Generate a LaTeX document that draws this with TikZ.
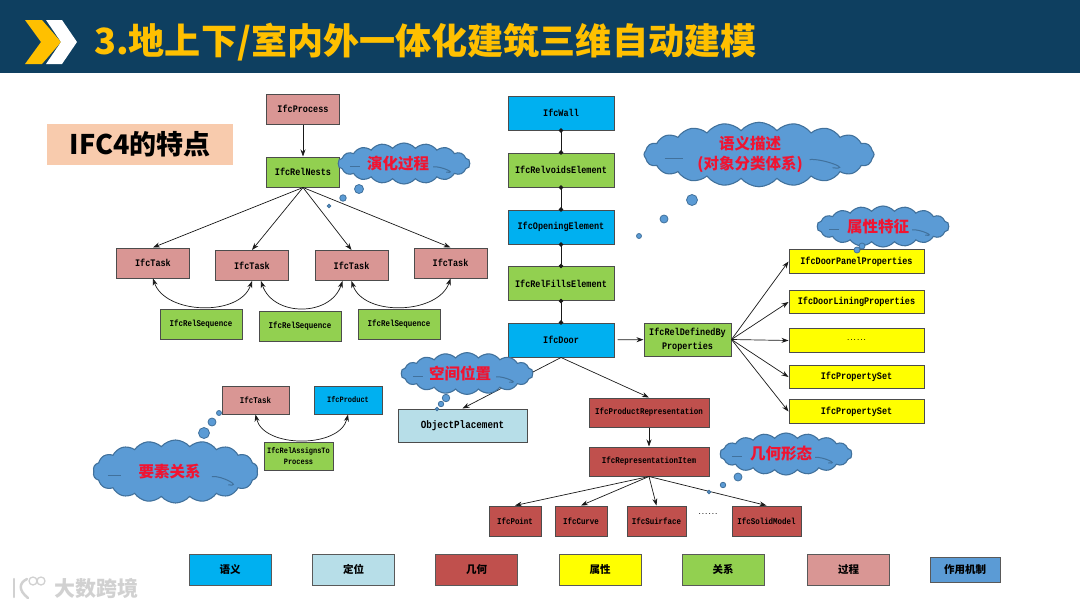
\documentclass[tikz,border=0pt]{standalone}
\usepackage{fontspec}
\usepackage{xcolor}
\usetikzlibrary{arrows.meta,shapes.symbols}
\newfontfamily\cjkfont{Noto Sans CJK SC}
\newfontfamily\ifcfont{Liberation Mono}[FakeStretch=0.85]
\definecolor{headC}{RGB}{14,63,96}
\definecolor{goldC}{RGB}{255,192,0}
\definecolor{featureC}{RGB}{248,203,173}
\definecolor{semanC}{RGB}{0,176,240}
\definecolor{placeC}{RGB}{183,222,232}
\definecolor{geomC}{RGB}{192,80,77}
\definecolor{attrC}{RGB}{255,255,0}
\definecolor{relC}{RGB}{146,208,80}
\definecolor{procC}{RGB}{217,150,148}
\definecolor{cloudC}{RGB}{91,155,213}
\definecolor{cloudL}{RGB}{65,113,156}
\definecolor{noteC}{RGB}{240,20,50}
\newcommand{\sixdots}{{\fontsize{6.5}{8}\selectfont ......}}
\tikzset{
  ifc/.style={draw=black!70,line width=1pt,align=center,inner sep=0pt,
    font=\ifcfont\bfseries\fontsize{10}{14}\selectfont},
  ifcsm/.style={ifc,font=\ifcfont\bfseries\fontsize{8.8}{11}\selectfont},
  arr/.style={-{Stealth[length=7pt,width=5pt]},black!90,line width=0.7pt},
  dotlink/.style={{Circle[length=4.5pt]}-{Circle[length=4.5pt]},black!90,line width=0.8pt,
    shorten <=-2.25pt,shorten >=-2.25pt},
  seqarc/.style={{Stealth[length=7pt,width=5pt]}-{Stealth[length=7pt,width=5pt]},black!90,line width=0.7pt},
  thought/.style={cloud,cloud puffs=18,cloud puff arc=100,draw=cloudL,line width=1.1pt,
    fill=cloudC,inner sep=0pt,align=center,text=noteC,
    font=\cjkfont\bfseries\fontsize{15.5}{20}\selectfont},
  bubble/.style={circle,fill=cloudC,draw=cloudL,line width=0.8pt,inner sep=0pt},
  legend/.style={draw=black!65,line width=0.9pt,minimum width=82pt,minimum height=31pt,
    inner sep=0pt,font=\cjkfont\bfseries\fontsize{10.5}{12}\selectfont}
}
\begin{document}
\begin{tikzpicture}[x=1pt,y=-1pt]
  \useasboundingbox (0,0) rectangle (1080,608);

  % Header
  \fill[headC] (0,0) rectangle (1080,73);
  \fill[goldC] (25,20) -- (42,20) -- (61,42) -- (42,64) -- (25,64) -- (41,42) -- cycle;
  \fill[white] (46,20) -- (62,20) -- (77,42) -- (62,64) -- (46,64) -- (61,42) -- cycle;
  \node[anchor=west,inner sep=0pt,text=goldC,font=\cjkfont\bfseries\fontsize{36.1}{40}\selectfont]
    (title) at (94,42) {3.地上下/室内外一体化建筑三维自动建模};
  \node[fill=featureC,minimum width=186pt,minimum height=41pt,inner sep=0pt,
    font=\cjkfont\bfseries\fontsize{27}{30}\selectfont] (feature) at (140,144.5) {IFC4的特点};

  % Process tree
  \node[ifc,fill=procC,minimum width=73pt,minimum height=30pt] (process) at (303,109) {IfcProcess};
  \node[ifc,fill=relC,minimum width=73pt,minimum height=30pt] (nests) at (303,172) {IfcRelNests};
  \foreach \n/\px/\py in {taskA/153/263,taskB/252/265.5,taskC/351.5/265.5,taskD/450.5/263}{
    \node[ifc,fill=procC,minimum width=73pt,minimum height=30pt] (\n) at (\px,\py) {IfcTask};
    \draw[arr] (nests.south) -- (\n.north);
  }
  \draw[arr] (process) -- (nests);
  \draw[seqarc] (taskA.south) .. controls +(12,36) and +(-12,36) .. (taskB.south);
  \draw[seqarc] ([xshift=9pt]taskB.south) .. controls +(12,36) and +(-12,36) .. ([xshift=-9pt]taskC.south);
  \draw[seqarc] (taskC.south) .. controls +(12,36) and +(-12,36) .. (taskD.south);
  \foreach \n/\px/\py in {seqA/201/324,seqB/300/326,seqC/399/324}{
    \node[ifcsm,fill=relC,minimum width=82pt,minimum height=30pt] (\n) at (\px,\py) {IfcRelSequence};
  }

  % Task and product
  \node[ifcsm,fill=procC,minimum width=67pt,minimum height=28pt] (task) at (255.5,400) {IfcTask};
  \node[ifcsm,fill=semanC,minimum width=68pt,minimum height=28pt,font=\ifcfont\bfseries\fontsize{8.2}{11}\selectfont]
    (product) at (348,400) {IfcProduct};
  \draw[seqarc] (task.south) .. controls +(8,34) and +(-8,34) .. (product.south);
  \node[ifcsm,fill=relC,minimum width=69pt,minimum height=28pt,font=\ifcfont\bfseries\fontsize{8.2}{11}\selectfont]
    (assigns) at (298.5,456) {IfcRelAssignsTo\\Process};

  % Door column
  \node[ifc,fill=semanC,minimum width=106pt,minimum height=34pt] (wall) at (561,113) {IfcWall};
  \node[ifc,fill=relC,minimum width=106pt,minimum height=34pt] (voids) at (561,170) {IfcRelvoidsElement};
  \node[ifc,fill=semanC,minimum width=106pt,minimum height=34pt] (opening) at (561,227) {IfcOpeningElement};
  \node[ifc,fill=relC,minimum width=106pt,minimum height=34pt] (fills) at (561,283.5) {IfcRelFillsElement};
  \node[ifc,fill=semanC,minimum width=106pt,minimum height=34pt] (door) at (561,340) {IfcDoor};
  \foreach \upper/\lower in {wall/voids,voids/opening,opening/fills,fills/door}{
    \draw[dotlink] (\upper) -- (\lower);
  }

  % Placement
  \node[ifc,fill=placeC,minimum width=129pt,minimum height=33pt,font=\ifcfont\bfseries\fontsize{10.9}{12}\selectfont]
    (placement) at (462.5,425.5) {ObjectPlacement};
  \draw[arr] (door.south) -- (placement.north);

  % Properties
  \node[ifc,fill=relC,minimum width=87pt,minimum height=33pt] (defined) at (687.5,339.5) {IfcRelDefinedBy\\Properties};
  \draw[arr,shorten <=3pt] (door) -- (defined);
  \foreach \n/\py/\lab in {propA/261.5/IfcDoorPanelProperties,propB/302/IfcDoorLiningProperties,
      propC/340.5/\sixdots,propD/377/IfcPropertySet,propE/411.5/IfcPropertySet}{
    \node[ifc,fill=attrC,minimum width=135pt,minimum height=23.5pt] (\n) at (856.5,\py) {\lab};
    \draw[arr] (defined.east) -- (\n.west);
  }

  % Geometry
  \node[ifcsm,fill=geomC,minimum width=120pt,minimum height=29pt] (prodrep) at (649,412.5) {IfcProductRepresentation};
  \node[ifcsm,fill=geomC,minimum width=120pt,minimum height=29pt] (repitem) at (649,461.5) {IfcRepresentationItem};
  \draw[arr] (door.south) -- (prodrep.north);
  \draw[arr] (prodrep) -- (repitem);
  \foreach \n/\px/\boxw/\lab in {point/515/52/IfcPoint,curve/581/52/IfcCurve,
      surface/656.5/59/IfcSuirface,solid/766.5/69/IfcSolidModel}{
    \node[ifcsm,fill=geomC,minimum width=\boxw pt,minimum height=30pt] (\n) at (\px,521) {\lab};
    \draw[arr] (repitem.south) -- (\n.north);
  }
  \node[ifcsm,draw=none] (dots) at (708,514) {\sixdots};

  % Clouds (text sits left of centre)
  \node[thought,minimum width=132pt,minimum height=41pt,aspect=3.2] (cloudEvol) at (404,163.5) {演化过程\hspace*{12pt}};
  \node[thought,cloud puffs=20,minimum width=230pt,minimum height=63pt,aspect=3.6] (cloudSem) at (759,154.5) {语义描述\hspace*{18pt}\\(对象分类体系)\hspace*{18pt}};
  \node[thought,minimum width=132pt,minimum height=41pt,aspect=3.2] (cloudAttr) at (883,226.5) {属性特征\hspace*{10pt}};
  \node[thought,minimum width=132pt,minimum height=41pt,aspect=3.2] (cloudPos) at (467,373.5) {空间位置\hspace*{14pt}};
  \node[thought,minimum width=165pt,minimum height=63pt,aspect=2.6] (cloudElem) at (175.5,471.5) {要素关系\hspace*{12pt}};
  \node[thought,minimum width=132pt,minimum height=42pt,aspect=3.2] (cloudGeom) at (786,454) {几何形态\hspace*{10pt}};
  \foreach \c/\cw/\ch in {cloudEvol/132/41,cloudSem/230/63,cloudAttr/132/41,cloudPos/132/41,cloudElem/165/63,cloudGeom/132/42}{
    \draw[cloudL,line width=1pt] ([shift={(-0.41*\cw,0.07*\ch)}]\c.center) -- +(0.08*\cw,0);
    \draw[cloudL,line width=1pt] ([shift={(0.22*\cw,0.08*\ch)}]\c.center)
      .. controls +(0.06*\cw,-0.02*\ch) and +(0.09*\cw,0.04*\ch) .. +(0.1*\cw,0.13*\ch);
  }
  \foreach \n/\bx/\by/\bsize in {
      bA/359/189/9,bB/343/198/6.5,bC/329/206/3.5,
      bD/692/200/11,bE/664/219/8,bF/639/236/5,
      bG/862/246/6,bH/857/250/6,
      bI/446/398/7.5,bJ/441/404/5.5,bK/437/409/3.5,
      bL/204/433/11,bM/212/422/8,bN/219/413/5,
      bO/738/477/8,bP/723/485/5.5,bQ/709/492/3.5}{
    \node[bubble,minimum size=\bsize pt] (\n) at (\bx,\by) {};
  }

  % Legend
  \foreach \n/\px/\col/\lab in {legA/230/semanC/语义,legB/353.5/placeC/定位,legC/476.5/geomC/几何,
      legD/600/attrC/属性,legE/723/relC/关系,legF/848.5/procC/过程}{
    \node[legend,fill=\col] (\n) at (\px,569.5) {\lab};
  }
  \node[legend,fill=cloudC,minimum width=70pt,minimum height=25pt] (legG) at (965,569.5) {作用机制};

  % Watermark
  \node[text=black!18,font=\cjkfont\bfseries\fontsize{21}{24}\selectfont,inner sep=0pt] (mark) at (96,588) {大数跨境};
  \draw[black!18,line width=2.5pt,line cap=round] (14,579) -- (14,597);
  \draw[black!18,line width=2.5pt,line cap=round] (27,579) .. controls (19,583) and (18,590) .. (28,598);
  \node[circle,draw=black!18,line width=1.3pt,minimum size=8pt,inner sep=0pt] (markA) at (33,581) {};
  \node[circle,draw=black!18,line width=1.3pt,minimum size=8pt,inner sep=0pt] (markB) at (41,581) {};
\end{tikzpicture}
\end{document}
